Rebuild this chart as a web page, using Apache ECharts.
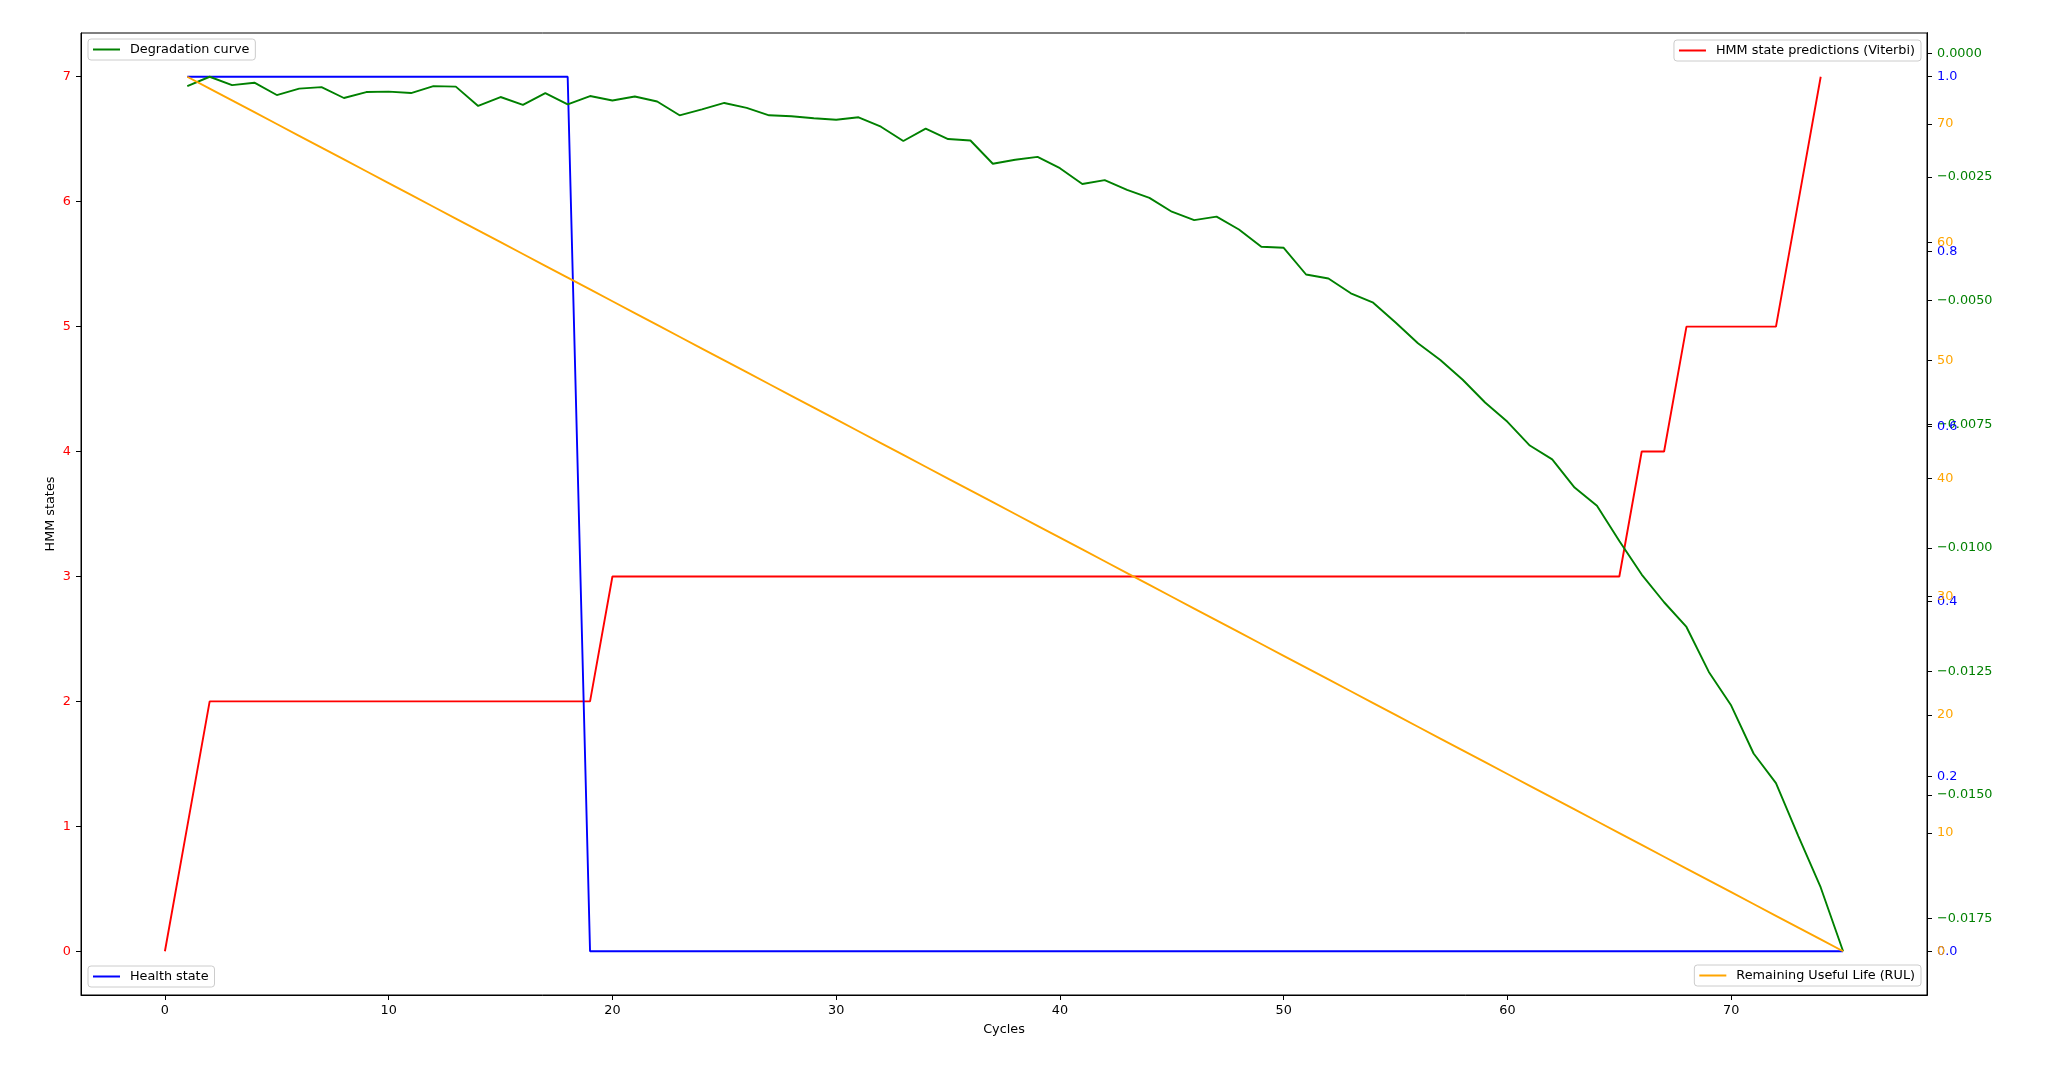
<!DOCTYPE html>
<html><head><meta charset="utf-8">
<script src="https://cdn.jsdelivr.net/npm/echarts@6/dist/echarts.min.js"></script>
<style>html,body{margin:0;padding:0;background:#fff}#c{width:2048px;height:1065px}</style>
</head><body><div id="c"></div>
<script>
// ---- data ----
const cyclesHmm = [0,1,2,3,4,5,6,7,8,9,10,11,12,13,14,15,16,17,18,19,20,21,22,23,24,25,26,27,28,29,30,31,32,33,34,35,36,37,38,39,40,41,42,43,44,45,46,47,48,49,50,51,52,53,54,55,56,57,58,59,60,61,62,63,64,65,66,67,68,69,70,71,72,73,74];
const hmmStates = [0,1,2,2,2,2,2,2,2,2,2,2,2,2,2,2,2,2,2,2,3,3,3,3,3,3,3,3,3,3,3,3,3,3,3,3,3,3,3,3,3,3,3,3,3,3,3,3,3,3,3,3,3,3,3,3,3,3,3,3,3,3,3,3,3,3,4,4,5,5,5,5,5,6,7];
const cycles = [1,2,3,4,5,6,7,8,9,10,11,12,13,14,15,16,17,18,19,20,21,22,23,24,25,26,27,28,29,30,31,32,33,34,35,36,37,38,39,40,41,42,43,44,45,46,47,48,49,50,51,52,53,54,55,56,57,58,59,60,61,62,63,64,65,66,67,68,69,70,71,72,73,74,75];
const degradation = [-0.00066,-0.00047,-0.00064,-0.00059,-0.00084,-0.00071,-0.00068,-0.00090,-0.00078,-0.00077,
  -0.00080,-0.00066,-0.00067,-0.00106,-0.00088,-0.00104,-0.00080,-0.00103,-0.00086,-0.00095,
  -0.00087,-0.00097,-0.00125,-0.00113,-0.00100,-0.00110,-0.00125,-0.00127,-0.00131,-0.00134,
  -0.00129,-0.00148,-0.00177,-0.00152,-0.00173,-0.00176,-0.00223,-0.00215,-0.00209,-0.00232,
  -0.00264,-0.00256,-0.00276,-0.00292,-0.00320,-0.00337,-0.00330,-0.00356,-0.00391,-0.00393,
  -0.00447,-0.00455,-0.00485,-0.00504,-0.00544,-0.00586,-0.00620,-0.00660,-0.00706,-0.00745,
  -0.00793,-0.00821,-0.00878,-0.00915,-0.00986,-0.01054,-0.01110,-0.01160,-0.01251,-0.01319,
  -0.01416,-0.01476,-0.01583,-0.01687,-0.01816];
const healthState = [1,1,1,1,1,1,1,1,1,1,1,1,1,1,1,1,1,1,0,0,0,0,0,0,0,0,0,0,0,0,0,0,0,0,0,0,0,0,0,0,0,0,0,0,0,0,0,0,0,0,0,0,0,0,0,0,0,0,0,0,0,0,0,0,0,0,0,0,0,0,0,0,0,0,0];
const rul = [74,73,72,71,70,69,68,67,66,65,64,63,62,61,60,59,58,57,56,55,54,53,52,51,50,49,48,47,46,45,44,43,42,41,40,39,38,37,36,35,34,33,32,31,30,29,28,27,26,25,24,23,22,21,20,19,18,17,16,15,14,13,12,11,10,9,8,7,6,5,4,3,2,1,0];
const xTicks = [0,10,20,30,40,50,60,70];
const hmmTicks = [0,1,2,3,4,5,6,7];
const degTicks = [-0.0175,-0.015,-0.0125,-0.01,-0.0075,-0.005,-0.0025,0];
const healthTicks = [0,0.2,0.4,0.6,0.8,1.0];
const rulTicks = [0,10,20,30,40,50,60,70];

// ---- chart ----
const FF = 'DejaVu Sans';
const FS = 12.8;
const chart = echarts.init(document.getElementById('c'), null, {renderer:'canvas'});
function yAx(o){
  return Object.assign({
    type:'value', splitLine:{show:false},
    axisLine:{show:true, onZero:false, lineStyle:{color:'#000', width:1}},
    axisTick:{show:true, length:5, lineStyle:{color:'#000', width:1}},
    axisLabel:{fontFamily:FF, fontSize:FS, margin:10}
  }, o);
}
function lg(name, pos){
  return Object.assign({
    data:[{name:name, icon:'rect'}], itemWidth:27, itemHeight:2, itemGap:0,
    padding:[4,6,4,5], backgroundColor:'rgba(255,255,255,0.85)', borderColor:'#cccccc',
    borderWidth:1, borderRadius:3, selectedMode:false, z:10,
    textStyle:{fontFamily:FF, fontSize:FS, color:'#000', padding:[0,0,0,5]}
  }, pos);
}
const option = {
  animation:false,
  backgroundColor:'#fff',
  grid:{left:81, right:121, top:33, bottom:70, show:true, borderColor:'#000', borderWidth:1, backgroundColor:'transparent'},
  xAxis:{type:'value', min:-3.75, max:78.75, splitLine:{show:false},
    name:'Cycles', nameLocation:'middle', nameGap:28,
    nameTextStyle:{fontFamily:FF, fontSize:FS, color:'#000'},
    axisLine:{show:true, onZero:false, lineStyle:{color:'#000', width:1}},
    axisTick:{show:true, length:5, customValues:xTicks, lineStyle:{color:'#000'}},
    axisLabel:{fontFamily:FF, fontSize:FS, color:'#000', margin:9, customValues:xTicks}},
  yAxis:[
    yAx({position:'left', min:-0.35, max:7.35, name:'HMM states', nameLocation:'middle', nameGap:24, nameRotate:90,
      nameMoveOverlap:false,
      nameTextStyle:{fontFamily:FF, fontSize:FS, color:'#000'},
      axisTick:{show:true, length:5, customValues:hmmTicks, lineStyle:{color:'#000'}},
      axisLabel:{fontFamily:FF, fontSize:FS, margin:10, color:'#ff0000', customValues:hmmTicks}}),
    yAx({position:'right', offset:0, min:-0.019045, max:0.000415,
      axisTick:{show:true, length:5, customValues:degTicks, lineStyle:{color:'#000'}},
      axisLabel:{fontFamily:FF, fontSize:FS, margin:10, color:'#008000', customValues:degTicks,
        formatter:v=>{const a=Math.abs(v); return (v<0 && a>1e-9 ? '\u2212':'') + a.toFixed(4);}}}),
    yAx({position:'right', offset:0, min:-0.05, max:1.05,
      axisTick:{show:true, length:5, customValues:healthTicks, lineStyle:{color:'#000'}},
      axisLabel:{fontFamily:FF, fontSize:FS, margin:10, color:'#0000ff', customValues:healthTicks,
        formatter:v=>v.toFixed(1)}}),
    yAx({position:'right', offset:0, min:-3.7, max:77.7,
      axisTick:{show:true, length:5, customValues:rulTicks, lineStyle:{color:'#000'}},
      axisLabel:{fontFamily:FF, fontSize:FS, margin:10, color:'#ffa500', customValues:rulTicks}})
  ],
  legend:[
    lg('Degradation curve', {left:88, top:39}),
    lg('HMM state predictions (Viterbi)', {right:127, top:40}),
    lg('Health state', {left:88, top:966}),
    lg('Remaining Useful Life (RUL)', {right:127, top:965})
  ],
  series:[
    {name:'HMM state predictions (Viterbi)', type:'line', yAxisIndex:0, showSymbol:false, symbol:'none',
      data:cyclesHmm.map((c,i)=>[c,hmmStates[i]]), lineStyle:{color:'#ff0000', width:1.9}, itemStyle:{color:'#ff0000'}},
    {name:'Health state', type:'line', yAxisIndex:2, showSymbol:false, symbol:'none',
      data:cycles.map((c,i)=>[c,healthState[i]]), lineStyle:{color:'#0000ff', width:1.9}, itemStyle:{color:'#0000ff'}},
    {name:'Degradation curve', type:'line', yAxisIndex:1, showSymbol:false, symbol:'none',
      data:cycles.map((c,i)=>[c,degradation[i]]), lineStyle:{color:'#008000', width:1.9}, itemStyle:{color:'#008000'}},
    {name:'Remaining Useful Life (RUL)', type:'line', yAxisIndex:3, showSymbol:false, symbol:'none',
      data:cycles.map((c,i)=>[c,rul[i]]), lineStyle:{color:'#ffa500', width:1.9}, itemStyle:{color:'#ffa500'}}
  ]
};
chart.setOption(option);
</script></body></html>
